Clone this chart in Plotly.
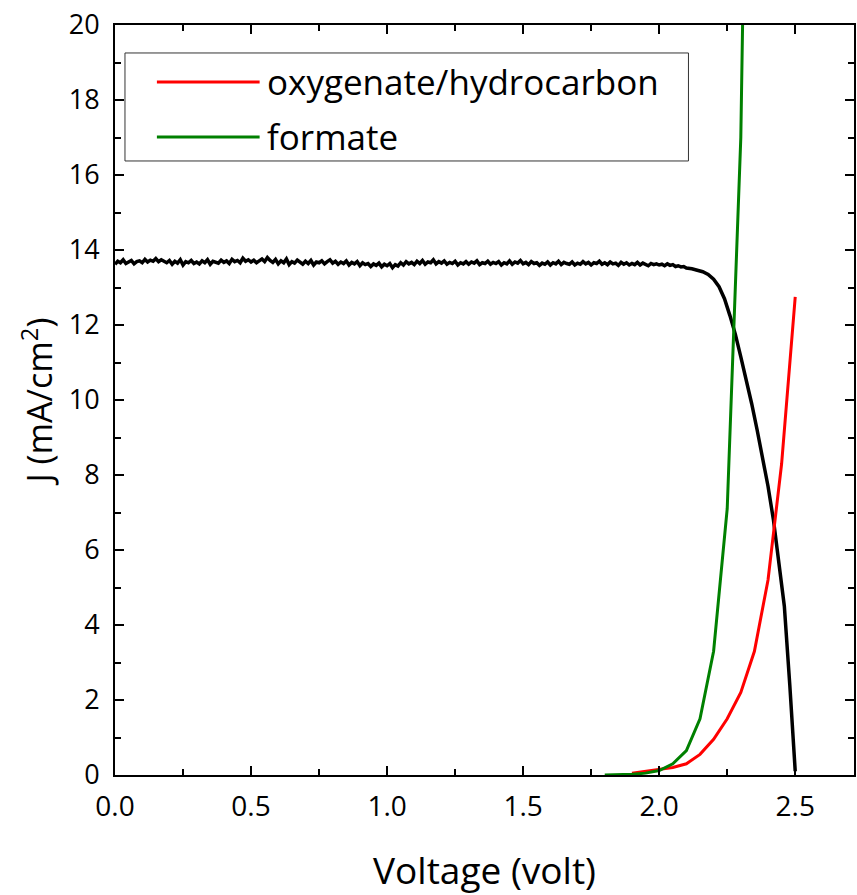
import numpy as np
import plotly.graph_objects as go

# ---- data ----
# black J-V curve (flat region, 0.00 .. 2.09 V, 0.01 V steps)
black_flat_J = [
    13.62,13.70,13.66,13.74,13.64,13.68,13.72,13.63,13.69,13.71,
    13.66,13.75,13.68,13.73,13.70,13.77,13.69,13.74,13.71,13.66,
    13.72,13.62,13.70,13.65,13.74,13.60,13.69,13.66,13.72,13.64,
    13.68,13.63,13.71,13.66,13.74,13.62,13.70,13.68,13.65,13.73,
    13.67,13.71,13.64,13.75,13.69,13.72,13.66,13.78,13.70,13.74,
    13.68,13.73,13.66,13.71,13.76,13.69,13.80,13.72,13.67,13.75,
    13.63,13.71,13.66,13.76,13.61,13.69,13.65,13.73,13.68,13.62,
    13.70,13.64,13.72,13.60,13.68,13.66,13.71,13.63,13.69,13.74,
    13.65,13.70,13.62,13.68,13.64,13.71,13.60,13.67,13.63,13.69,
    13.58,13.66,13.61,13.64,13.56,13.63,13.59,13.65,13.55,13.62,
    13.58,13.64,13.53,13.61,13.57,13.66,13.60,13.69,13.63,13.67,
    13.61,13.70,13.64,13.72,13.62,13.68,13.66,13.74,13.63,13.69,
    13.65,13.71,13.62,13.67,13.64,13.70,13.60,13.66,13.63,13.69,
    13.62,13.68,13.65,13.71,13.61,13.66,13.64,13.70,13.62,13.67,
    13.64,13.69,13.60,13.66,13.63,13.71,13.62,13.68,13.65,13.72,
    13.63,13.67,13.61,13.69,13.64,13.66,13.59,13.65,13.62,13.68,
    13.60,13.66,13.63,13.70,13.61,13.67,13.64,13.62,13.68,13.60,
    13.65,13.62,13.69,13.63,13.67,13.60,13.66,13.64,13.70,13.62,
    13.66,13.61,13.68,13.63,13.65,13.59,13.67,13.62,13.66,13.60,
    13.64,13.61,13.67,13.60,13.65,13.62,13.58,13.64,13.61,13.63,
    13.60,13.62,13.58,13.63,13.59,13.61,13.56,13.58,13.55,13.56,
]
black_flat_V = list(np.round(np.arange(len(black_flat_J)) * 0.01, 2))

# black J-V curve knee region (2.10 .. 2.50 V)
black_knee_V = [2.10,2.12,2.14,2.16,2.18,2.20,2.22,2.24,2.26,2.28,2.30,
                2.32,2.34,2.36,2.38,2.40,2.42,2.44,2.46,2.48,2.50]
black_knee_J = [13.52,13.50,13.46,13.42,13.35,13.22,13.02,12.70,12.25,11.75,11.15,
                10.55,9.90,9.20,8.50,7.70,6.80,5.70,4.50,2.40,0.10]

# oxygenate/hydrocarbon (red)
red_V = [1.90,1.95,2.00,2.05,2.10,2.15,2.20,2.25,2.30,2.35,2.40,2.45,2.50]
red_J = [0.05,0.10,0.15,0.20,0.30,0.55,0.95,1.50,2.20,3.30,5.20,8.30,12.75]

# formate (green)
green_V = [1.80,1.85,1.90,1.95,2.00,2.05,2.10,2.15,2.20,2.25,2.30,2.35]
green_J = [0.00,0.01,0.02,0.05,0.12,0.30,0.65,1.50,3.30,7.10,17.0,40.0]

series_names = ["oxygenate/hydrocarbon", "formate"]
series_colors = ["#ff0000", "#008000"]

x_ticks = [0.0, 0.5, 1.0, 1.5, 2.0, 2.5]
x_tick_text = ["0.0", "0.5", "1.0", "1.5", "2.0", "2.5"]
y_ticks = [0, 2, 4, 6, 8, 10, 12, 14, 16, 18, 20]

FONT = "Open Sans"

fig = go.Figure()
fig.add_trace(go.Scatter(x=black_flat_V + black_knee_V, y=black_flat_J + black_knee_J,
                         mode="lines", line=dict(color="black", width=3.5),
                         showlegend=False))
fig.add_trace(go.Scatter(x=red_V, y=red_J, mode="lines", name=series_names[0],
                         line=dict(color=series_colors[0], width=3), showlegend=False))
fig.add_trace(go.Scatter(x=green_V, y=green_J, mode="lines", name=series_names[1],
                         line=dict(color=series_colors[1], width=3), showlegend=False))

axis_common = dict(showline=True, linecolor="black", linewidth=2, mirror="allticks",
                   ticks="inside", ticklen=9, tickwidth=2, tickcolor="black",
                   showgrid=False, zeroline=False)

fig.update_xaxes(range=[0, 2.716], tickvals=x_ticks, ticktext=x_tick_text,
                 minor=dict(ticks="inside", ticklen=6, tickwidth=2, dtick=0.25, tick0=0, tickcolor="black"),
                 tickfont=dict(family=FONT, size=28, color="black"),
                 ticklabelstandoff=5,
                 title=dict(text="Voltage (volt)", font=dict(family=FONT, size=37, color="black"),
                            standoff=36),
                 **axis_common)
fig.update_yaxes(range=[0, 20], tickvals=y_ticks,
                 minor=dict(ticks="inside", ticklen=6, tickwidth=2, dtick=1, tick0=0, tickcolor="black"),
                 tickfont=dict(family=FONT, size=27, color="black"),
                 ticklabelstandoff=8,
                 title=dict(text="J (mA/cm<sup>2</sup>)", font=dict(family=FONT, size=34, color="black"),
                            standoff=6),
                 **axis_common)

# ---- manual legend (box, line samples, labels) ----
fig.add_shape(type="rect", xref="paper", yref="paper",
              x0=0.0135, x1=0.776, y0=0.8187, y1=0.9627,
              line=dict(color="#333333", width=1), fillcolor="white", layer="above")
legend_y = [0.924, 0.8507]
for name, color, ly in zip(series_names, series_colors, legend_y):
    fig.add_shape(type="line", xref="paper", yref="paper",
                  x0=0.0567, x1=0.1957, y0=ly, y1=ly,
                  line=dict(color=color, width=3), layer="above")
    fig.add_annotation(xref="paper", yref="paper", x=0.2035, y=ly,
                       xanchor="left", yanchor="middle", showarrow=False,
                       text=name, font=dict(family=FONT, size=35, color="black"))

fig.update_layout(
    width=857, height=895,
    margin=dict(l=115, r=1, t=25, b=120),
    plot_bgcolor="white", paper_bgcolor="white",
    showlegend=False,
)

fig.write_html("out.html")
